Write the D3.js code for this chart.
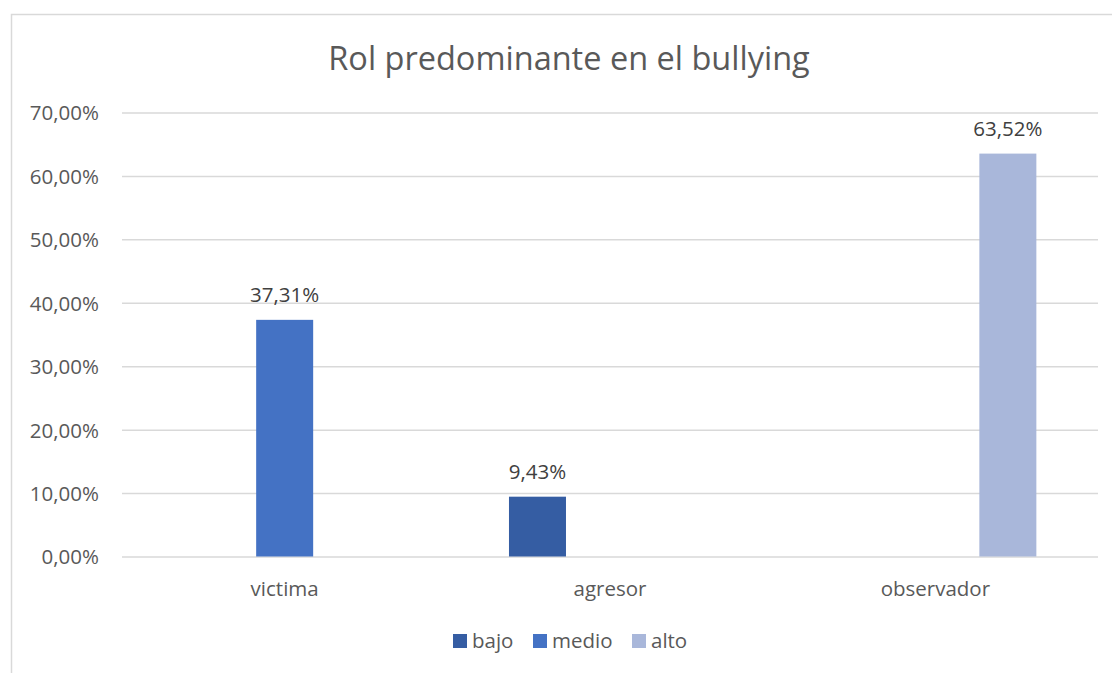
<!DOCTYPE html>
<html><head><meta charset="utf-8">
<script src="https://cdn.jsdelivr.net/npm/d3@7"></script>
<style>body{margin:0;background:#fff}svg{display:block}text{font-family:"Open Sans",Lato,sans-serif}</style>
</head><body><svg id="c" width="1112" height="673"></svg>
<script>
const categories = ["victima", "agresor", "observador"];
const seriesNames = ["bajo", "medio", "alto"];
const bajo = [null, 0.0943, null];
const medio = [0.3731, null, null];
const alto = [null, null, 0.6352];
const yTicks = [0, 0.1, 0.2, 0.3, 0.4, 0.5, 0.6, 0.7];
const title = "Rol predominante en el bullying";
const colors = {bajo: "#355DA3", medio: "#4472C4", alto: "#A9B7DA"};
const seriesVals = {bajo, medio, alto};

const svg = d3.select("#c");
svg.append("rect").attr("x", 11.5).attr("y", 14.5).attr("width", 1110).attr("height", 670)
  .attr("fill", "#fff").attr("stroke", "#D9D9D9").attr("stroke-width", 1.5);

const L = 122, R = 1098, T = 112.5, B = 556.5;
const y = d3.scaleLinear().domain([0, 0.7]).range([B, T]);
const x0 = d3.scaleBand().domain(categories).range([L, R]).padding(0);
const x1 = d3.scaleBand().domain(seriesNames).range([0, x0.bandwidth()]).paddingInner(0.214).paddingOuter(0.85);
const fmt = v => (v * 100).toFixed(2).replace(".", ",") + "%";
const FS = 20.5;

svg.append("text").attr("x", 569).attr("y", 70).attr("text-anchor", "middle")
  .attr("font-size", 32.5).attr("fill", "#595959").text(title);

const yAxis = d3.axisLeft(y).tickValues(yTicks).tickSize(-(R - L)).tickFormat(fmt);
const ga = svg.append("g").attr("transform", `translate(${L},0)`).call(yAxis);
ga.select(".domain").remove();
ga.selectAll(".tick line").attr("stroke", "#D9D9D9").attr("stroke-width", 1.5);
ga.selectAll(".tick text").attr("x", -23).attr("font-size", FS).attr("fill", "#595959").attr("dy", "0.36em");

const xAxis = d3.axisBottom(x0).tickSize(0);
const gx = svg.append("g").attr("transform", `translate(0,${B})`).call(xAxis);
gx.select(".domain").remove();
gx.selectAll(".tick text").attr("font-size", FS).attr("fill", "#595959").attr("y", 39.5).attr("dy", "0");

const data = [];
categories.forEach((c, i) => seriesNames.forEach(s => {
  const v = seriesVals[s][i];
  if (v != null) data.push({c, s, v});
}));
svg.append("g").selectAll("rect").data(data).join("rect")
  .attr("x", d => x0(d.c) + x1(d.s)).attr("width", x1.bandwidth())
  .attr("y", d => y(d.v)).attr("height", d => B - y(d.v)).attr("fill", d => colors[d.s]);
svg.append("g").selectAll("text").data(data).join("text")
  .attr("x", d => x0(d.c) + x1(d.s) + x1.bandwidth() / 2).attr("y", d => y(d.v) - 18)
  .attr("text-anchor", "middle").attr("font-size", FS).attr("fill", "#404040").text(d => fmt(d.v));

const legX = [453, 533, 632];
const lg = svg.append("g");
seriesNames.forEach((s, i) => {
  lg.append("rect").attr("x", legX[i]).attr("y", 634).attr("width", 14).attr("height", 14).attr("fill", colors[s]);
  lg.append("text").attr("x", legX[i] + 19).attr("y", 648).attr("font-size", FS).attr("fill", "#595959").text(s);
});
</script></body></html>
